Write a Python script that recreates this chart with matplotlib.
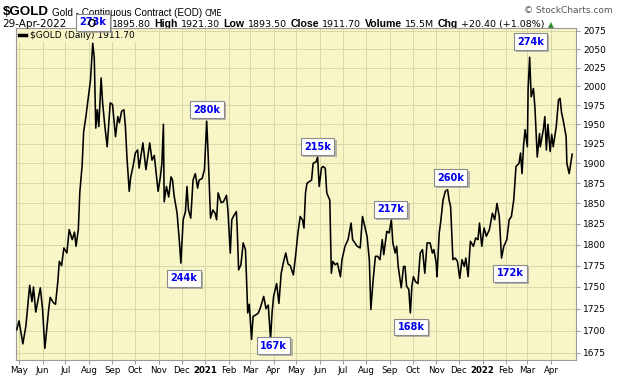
import matplotlib
matplotlib.use('Agg')
import matplotlib.pyplot as plt
import matplotlib.patheffects as pe
from matplotlib.ticker import NullLocator, NullFormatter
import pandas as pd

# $GOLD daily closes
dates = [
    "2020-04-28", "2020-05-01", "2020-05-06", "2020-05-10", "2020-05-15", "2020-05-18", "2020-05-20",
    "2020-05-23", "2020-05-29", "2020-06-01", "2020-06-04", "2020-06-09", "2020-06-11", "2020-06-15",
    "2020-06-18", "2020-06-21", "2020-06-23", "2020-06-26", "2020-06-29", "2020-07-03", "2020-07-06",
    "2020-07-10", "2020-07-13", "2020-07-15", "2020-07-18", "2020-07-20", "2020-07-23", "2020-07-25",
    "2020-07-28", "2020-07-31", "2020-08-03", "2020-08-06", "2020-08-08", "2020-08-10", "2020-08-12",
    "2020-08-14", "2020-08-17", "2020-08-19", "2020-08-22", "2020-08-25", "2020-08-27", "2020-08-29",
    "2020-09-01", "2020-09-05", "2020-09-08", "2020-09-10", "2020-09-13", "2020-09-16", "2020-09-18",
    "2020-09-20", "2020-09-23", "2020-09-25", "2020-09-28", "2020-10-01", "2020-10-04", "2020-10-06",
    "2020-10-11", "2020-10-15", "2020-10-20", "2020-10-23", "2020-10-26", "2020-10-28", "2020-10-31",
    "2020-11-03", "2020-11-05", "2020-11-07", "2020-11-08", "2020-11-11", "2020-11-14", "2020-11-17",
    "2020-11-19", "2020-11-21", "2020-11-25", "2020-11-28", "2020-11-30", "2020-12-03", "2020-12-06",
    "2020-12-08", "2020-12-10", "2020-12-13", "2020-12-16", "2020-12-19", "2020-12-22", "2020-12-24",
    "2020-12-28", "2020-12-31",
    "2021-01-03", "2021-01-05", "2021-01-08", "2021-01-11", "2021-01-14", "2021-01-16", "2021-01-18",
    "2021-01-22", "2021-01-25", "2021-01-29", "2021-01-31", "2021-02-03", "2021-02-05", "2021-02-07",
    "2021-02-11", "2021-02-12", "2021-02-14", "2021-02-17", "2021-02-20", "2021-02-23", "2021-02-26",
    "2021-02-28", "2021-03-03", "2021-03-05", "2021-03-09", "2021-03-12", "2021-03-15", "2021-03-19",
    "2021-03-22", "2021-03-25", "2021-03-28", "2021-03-30", "2021-04-01", "2021-04-05", "2021-04-08",
    "2021-04-11", "2021-04-14", "2021-04-17", "2021-04-20", "2021-04-23", "2021-04-27", "2021-04-30",
    "2021-05-03", "2021-05-06", "2021-05-09", "2021-05-11", "2021-05-13", "2021-05-15", "2021-05-18",
    "2021-05-21", "2021-05-23", "2021-05-27", "2021-05-29", "2021-05-31", "2021-06-03", "2021-06-05",
    "2021-06-08", "2021-06-10", "2021-06-14", "2021-06-16", "2021-06-18", "2021-06-21", "2021-06-24",
    "2021-06-28", "2021-06-30", "2021-07-04", "2021-07-08", "2021-07-12", "2021-07-14", "2021-07-17",
    "2021-07-20", "2021-07-24", "2021-07-27", "2021-07-31", "2021-08-02", "2021-08-05", "2021-08-07",
    "2021-08-10", "2021-08-13", "2021-08-16", "2021-08-19", "2021-08-22", "2021-08-24", "2021-08-28",
    "2021-08-31", "2021-09-03", "2021-09-05", "2021-09-08", "2021-09-10", "2021-09-12", "2021-09-16",
    "2021-09-19", "2021-09-21", "2021-09-23", "2021-09-26", "2021-09-28", "2021-09-30", "2021-10-02",
    "2021-10-05", "2021-10-08", "2021-10-11", "2021-10-14", "2021-10-17", "2021-10-20", "2021-10-24",
    "2021-10-27", "2021-10-29", "2021-11-01", "2021-11-02", "2021-11-05", "2021-11-07", "2021-11-10",
    "2021-11-13", "2021-11-16", "2021-11-18", "2021-11-20", "2021-11-23", "2021-11-26", "2021-11-29",
    "2021-12-02", "2021-12-05", "2021-12-08", "2021-12-10", "2021-12-13", "2021-12-16", "2021-12-20",
    "2021-12-23", "2021-12-26", "2021-12-28", "2021-12-31",
    "2022-01-03", "2022-01-06", "2022-01-10", "2022-01-14", "2022-01-17", "2022-01-20", "2022-01-23",
    "2022-01-26", "2022-01-29", "2022-02-02", "2022-02-05", "2022-02-08", "2022-02-11", "2022-02-12",
    "2022-02-14", "2022-02-18", "2022-02-20", "2022-02-22", "2022-02-24", "2022-02-26", "2022-03-01",
    "2022-03-02", "2022-03-04", "2022-03-06", "2022-03-09", "2022-03-11", "2022-03-14", "2022-03-17",
    "2022-03-18", "2022-03-22", "2022-03-24", "2022-03-26", "2022-03-28", "2022-03-31", "2022-04-02",
    "2022-04-04", "2022-04-08", "2022-04-11", "2022-04-13", "2022-04-15", "2022-04-17", "2022-04-21",
    "2022-04-22", "2022-04-25", "2022-04-29",
]
close = [
    1701, 1711, 1685, 1705, 1752, 1733, 1750,
    1721, 1749, 1724, 1680, 1724, 1738, 1732,
    1730, 1756, 1780, 1775, 1796, 1790, 1818,
    1806, 1815, 1798, 1818, 1864, 1897, 1940,
    1960, 1984, 2008, 2058, 2038, 1945, 1969,
    1947, 2011, 1978, 1947, 1921, 1950, 1978,
    1976, 1934, 1960, 1952, 1967, 1969, 1947,
    1908, 1865, 1883, 1896, 1913, 1917, 1894,
    1926, 1892, 1926, 1904, 1910, 1892, 1865,
    1883, 1900, 1950, 1852, 1871, 1858, 1883,
    1879, 1860, 1838, 1804, 1778, 1830, 1840,
    1871, 1842, 1832, 1879, 1887, 1869, 1879,
    1881, 1892,
    1954, 1908, 1832, 1842, 1838, 1830, 1863,
    1851, 1852, 1860, 1840, 1790, 1830, 1834,
    1840, 1822, 1770, 1776, 1802, 1794, 1720,
    1730, 1690, 1716, 1718, 1720, 1727, 1739,
    1725, 1729, 1690, 1720, 1739, 1754, 1731,
    1766, 1779, 1790, 1777, 1775, 1764, 1787,
    1814, 1834, 1830, 1820, 1863, 1875, 1877,
    1879, 1900, 1902, 1908, 1871, 1894, 1896,
    1894, 1863, 1854, 1766, 1780, 1776, 1778,
    1762, 1782, 1798, 1806, 1826, 1806, 1802,
    1798, 1796, 1834, 1818, 1810, 1782, 1724,
    1758, 1786, 1786, 1782, 1806, 1788, 1816,
    1814, 1830, 1802, 1790, 1798, 1774, 1749,
    1774, 1774, 1751, 1747, 1720, 1751, 1762,
    1756, 1754, 1790, 1794, 1766, 1802, 1802,
    1790, 1794, 1778, 1762, 1814, 1828, 1854,
    1865, 1867, 1854, 1846, 1782, 1784, 1780,
    1760, 1782, 1774, 1784, 1762, 1804, 1798,
    1808, 1806, 1826, 1798,
    1820, 1810, 1818, 1838, 1830, 1850, 1834,
    1784, 1798, 1806, 1830, 1834, 1854, 1867,
    1896, 1900, 1913, 1887, 1923, 1943, 1921,
    1997, 2039, 1986, 1997, 1971, 1908, 1938,
    1921, 1943, 1960, 1917, 1950, 1915, 1937,
    1921, 1947, 1982, 1984, 1965, 1956, 1934,
    1900, 1887, 1911.7,
]

# volume call-outs at turning points
vol_labels = ['273k', '244k', '280k', '167k', '215k', '217k', '168k', '260k', '172k', '274k']
vol_dates = ['2020-08-06', '2020-12-04', '2021-01-03', '2021-04-01', '2021-05-29',
             '2021-09-02', '2021-09-29', '2021-11-20', '2022-02-06', '2022-03-05']
box_y = [2087, 1760, 1969, 1683, 1921, 1843, 1704, 1882, 1766, 2060]

yticks = list(range(1675, 2076, 25))
months = pd.date_range('2020-05-01', '2022-04-01', freq='MS')

bg = '#f8f6c6'
fig = plt.figure(figsize=(6.2, 3.76), dpi=100)
ax = fig.add_axes([16/620, 16/376, 560/620, 332/376])
ax.set_facecolor(bg)

line, = ax.plot(pd.to_datetime(dates), close, color='black', lw=1.15, zorder=3,
                label=r'\$GOLD (Daily) 1911.70')

ax.set_yscale('log')
ax.set_ylim(1667, 2079)
ax.set_xlim(pd.Timestamp('2020-04-27'), pd.Timestamp('2022-05-04'))
ax.set_yticks(yticks)
ax.set_yticklabels([str(v) for v in yticks])
ax.yaxis.set_minor_locator(NullLocator())
ax.yaxis.set_minor_formatter(NullFormatter())
ax.yaxis.tick_right()
ax.tick_params(axis='y', length=3, width=0.6, color='#888888', labelsize=6.5, pad=2)

ax.set_xticks(months)
ax.set_xticklabels([str(m.year) if m.month == 1 else m.strftime('%b') for m in months])
for lab, m in zip(ax.get_xticklabels(), months):
    if m.month == 1:
        lab.set_fontweight('bold')
        lab.set_fontsize(7)
ax.tick_params(axis='x', length=3, width=0.6, color='#888888', labelsize=6.2, pad=1.5)

ax.grid(True, color='#d7d9ab', lw=0.7)
ax.set_axisbelow(True)
for s in ax.spines.values():
    s.set_color('#9a9a9a')
    s.set_linewidth(0.8)

leg = ax.legend(loc='upper left', fontsize=6.5, handlelength=0.8, handletextpad=0.4,
                borderaxespad=0.1, borderpad=0.25, frameon=True, facecolor=bg,
                edgecolor='none', framealpha=1)
leg.get_lines()[0].set_linewidth(2.5)
leg.set_zorder(2)

# volume boxes
for lab, d, y in zip(vol_labels, vol_dates, box_y):
    t = ax.text(pd.Timestamp(d), y, lab, ha='center', va='center', color='#0000ee',
                fontsize=7, fontweight='bold', clip_on=False, zorder=6,
                bbox=dict(boxstyle='square,pad=0.35', fc='white', ec='#8a8a8a', lw=0.8))
    t.get_bbox_patch().set_path_effects([
        pe.SimplePatchShadow(offset=(1.5, -1.5), shadow_rgbFace='#999999', alpha=0.7),
        pe.Normal()])


def chain(x, y, pieces, gap=2.2):
    prev = None
    for txt, size, weight, color, fam in pieces:
        kw = dict(fontsize=size, fontweight=weight, color=color, family=fam, va='bottom', zorder=1)
        if prev is None:
            prev = fig.text(x, y, txt, **kw)
        else:
            prev = ax.annotate(txt, xy=(1, 0), xycoords=prev, xytext=(gap, 0),
                               textcoords='offset points', ha='left',
                               annotation_clip=False, **kw)
    return prev


dv = 'DejaVu Sans'
lib = 'Liberation Sans'

# header, line 1
chain(3/620, 1 - 18/376, [
    (r'\$GOLD', 9.6, 'bold', 'black', lib),
    ('Gold - Continuous Contract (EOD)', 7.1, 'normal', 'black', lib),
    ('CME', 5.8, 'normal', 'black', dv),
], gap=2)
fig.text(613/620, 1 - 13/376, '\u00a9 StockCharts.com', ha='right', fontsize=6.5, color='#555555')

# header, line 2 (the open price label sits under the 273k box)
y2 = 1 - 29/376
fig.text(2/620, y2, '29-Apr-2022', fontsize=7.5, family=dv, va='bottom', zorder=1)
fig.text(88/620, y2, 'O', fontsize=7.5, family=lib, fontweight='bold', va='bottom', zorder=1)
chain(112/620, y2, [
    ('1895.80', 6.8, 'normal', 'black', dv),
    ('High', 7.6, 'bold', 'black', lib),
    ('1921.30', 6.8, 'normal', 'black', dv),
    ('Low', 7.6, 'bold', 'black', lib),
    ('1893.50', 6.8, 'normal', 'black', dv),
    ('Close', 7.6, 'bold', 'black', lib),
    ('1911.70', 6.8, 'normal', 'black', dv),
    ('Volume', 7.6, 'bold', 'black', lib),
    ('15.5M', 6.8, 'normal', 'black', dv),
    ('Chg', 7.6, 'bold', 'black', lib),
    ('+20.40 (+1.08%)', 6.8, 'normal', 'black', dv),
    ('\u25b2', 5.5, 'normal', '#2e8b2e', dv),
], gap=2.4)

fig.savefig('out.png', dpi=100, facecolor='white')
